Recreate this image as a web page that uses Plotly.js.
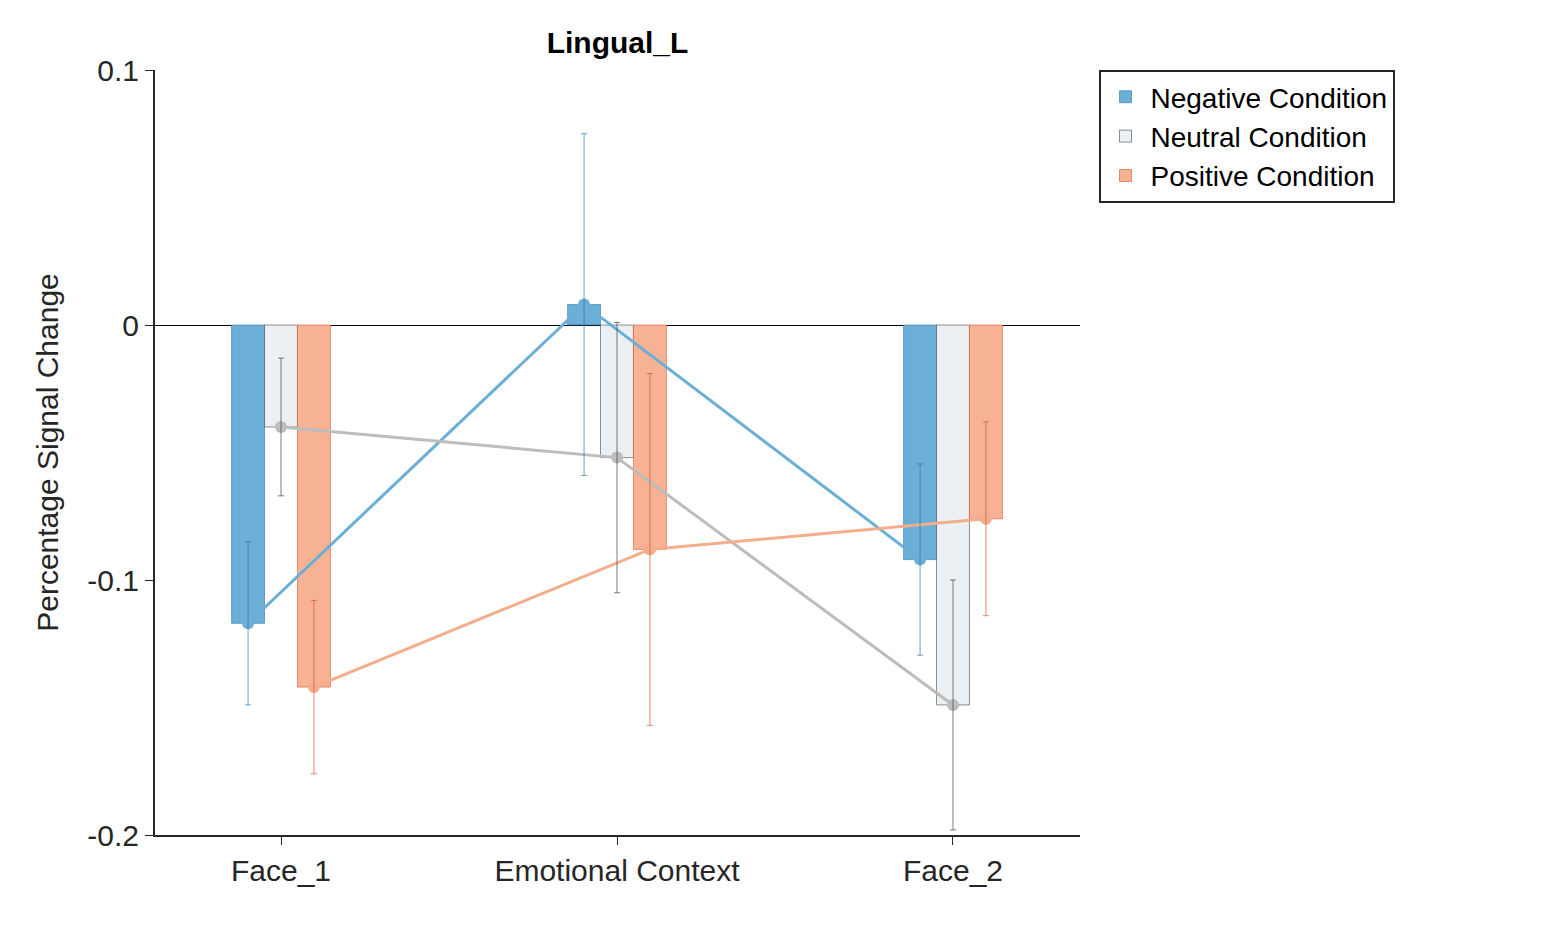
<!DOCTYPE html>
<html>
<head>
<script src="https://cdn.plot.ly/plotly-3.0.1.min.js"></script>
<style>body{margin:0}#myDiv{width:1563px;height:938px}</style>
</head>
<body>
<div id="myDiv"></div>
<script>
const categories = ['Face_1', 'Emotional Context', 'Face_2'];
const names = ['Negative Condition', 'Neutral Condition', 'Positive Condition'];
const negVals = [-0.117, 0.008, -0.092];
const neuVals = [-0.040, -0.052, -0.149];
const posVals = [-0.142, -0.088, -0.076];
const negErr = [0.032, 0.067, 0.0375];
const neuErr = [0.027, 0.053, 0.049];
const posErr = [0.034, 0.069, 0.038];

const fills = ['#6baed6', '#eaf0f3', '#f7b294'];
const edges = ['#2f74a8', '#444444', '#d9552f'];
const lineCols = ['#6baed6', '#bdbdbd', '#f4ae8d'];
const vals = [negVals, neuVals, posVals];
const errs = [negErr, neuErr, posErr];
const w = 0.098;
const offs = [-w, 0, w];
const idx = categories.map((_, i) => i);

const data = [];
vals.forEach((v, k) => {
  data.push({
    type: 'bar', x: idx.map(i => i + offs[k]), y: v, width: w, name: names[k],
    marker: {color: fills[k], line: {color: edges[k], width: 0.6}}
  });
});
vals.forEach((v, k) => {
  data.push({
    type: 'scatter', mode: 'lines+markers', x: idx.map(i => i + offs[k]), y: v,
    line: {color: lineCols[k], width: 3}, marker: {color: lineCols[k], size: 12},
    showlegend: false, hoverinfo: 'skip'
  });
});
vals.forEach((v, k) => {
  data.push({
    type: 'scatter', mode: 'none', x: idx.map(i => i + offs[k]), y: v,
    error_y: {type: 'data', array: errs[k], visible: true, color: edges[k], thickness: 0.7, width: 3},
    showlegend: false, hoverinfo: 'skip'
  });
});

const layout = {
  width: 1563, height: 938,
  margin: {l: 155, r: 483, t: 70, b: 103},
  paper_bgcolor: 'white', plot_bgcolor: 'white',
  font: {family: 'Liberation Sans, Arial, sans-serif', color: '#262626', size: 30},
  title: {text: '<b>Lingual_L</b>', x: 0.5, xref: 'paper', y: 0.955, yanchor: 'middle', font: {size: 30, color: '#000'}},
  xaxis: {
    range: [-0.375, 2.378], tickvals: idx, ticktext: categories,
    showline: true, linecolor: '#262626', linewidth: 2, ticks: 'outside', ticklen: 8,
    tickcolor: '#262626', showgrid: false, zeroline: false, fixedrange: true
  },
  yaxis: {
    range: [-0.2, 0.1], tickvals: [-0.2, -0.1, 0, 0.1], ticktext: ['-0.2', '-0.1', '0', '0.1'],
    showline: true, linecolor: '#262626', linewidth: 2, ticks: 'outside', ticklen: 8,
    tickcolor: '#262626', showgrid: false, zeroline: true, zerolinecolor: '#000', zerolinewidth: 0.8,
    title: {text: 'Percentage Signal Change', font: {size: 30}, standoff: 20}
  },
  showlegend: true,
  legend: {x: 1.02, y: 1, xanchor: 'left', yanchor: 'top', bordercolor: '#262626', borderwidth: 2,
    font: {size: 28, color: '#000'}, tracegroupgap: 0, itemwidth: 40},
  barmode: 'overlay'
};
Plotly.newPlot('myDiv', data, layout, {displayModeBar: false});
</script>
</body>
</html>
